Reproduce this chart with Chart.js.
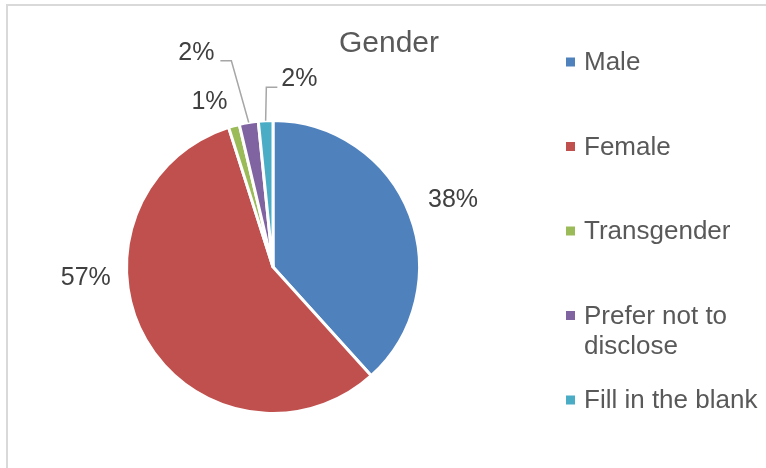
<!DOCTYPE html>
<html>
<head>
<meta charset="utf-8">
<script src="https://cdn.jsdelivr.net/npm/chart.js@4.4.1/dist/chart.umd.min.js"></script>
<style>
  html, body { margin: 0; padding: 0; background: #fff; }
  canvas { display: block; }
</style>
</head>
<body>
<canvas id="genderChart" width="766" height="468"></canvas>
<script>
const chartTitle = 'Gender';
const categories = ['Male', 'Female', 'Transgender', 'Prefer not to disclose', 'Fill in the blank'];
const legendLines = [['Male'], ['Female'], ['Transgender'], ['Prefer not to', 'disclose'], ['Fill in the blank']];
const shares = [38.3, 56.8, 1.2, 2.1, 1.6];
const sliceColors = ['#4F81BD', '#C0504D', '#9BBB59', '#8064A2', '#4BACC6'];

// where each percent label sits: degrees clockwise from 12 o'clock, distance in pie radii
const labelSpots = [
    { angle: 69.7, dist: 1.31 },
    { angle: 266.6, dist: 1.28 },
    { angle: 338.9, dist: 1.205 },
    { angle: 340.3, dist: 1.553, leader: 'right' },
    { angle: 8.0, dist: 1.295, leader: 'left' }
];

const FONT = '"Liberation Sans", Arial, sans-serif';

const excelLook = {
    id: 'excelLook',
    beforeDraw(chart) {
        const ctx = chart.ctx;
        ctx.save();
        ctx.strokeStyle = '#D9D9D9';
        ctx.lineWidth = 2;
        ctx.strokeRect(7, 5, 800, 500);
        ctx.restore();
    },
    afterDatasetsDraw(chart) {
        const ctx = chart.ctx;
        const arcs = chart.getDatasetMeta(0).data;
        const values = chart.data.datasets[0].data;
        const total = values.reduce((a, b) => a + b, 0);

        ctx.save();
        // title
        ctx.fillStyle = '#595959';
        ctx.font = '30px ' + FONT;
        ctx.textAlign = 'center';
        ctx.textBaseline = 'middle';
        ctx.fillText(chartTitle, 389, 44);

        // percent labels
        ctx.font = '25px ' + FONT;
        arcs.forEach((arc, i) => {
            const spot = labelSpots[i];
            const cx = arc.x, cy = arc.y, r = arc.outerRadius;
            const a = (spot.angle - 90) * Math.PI / 180;
            const lx = cx + Math.cos(a) * spot.dist * r;
            const ly = cy + Math.sin(a) * spot.dist * r;
            const text = Math.round(values[i] / total * 100) + '%';
            const w = ctx.measureText(text).width;

            if (spot.leader) {
                const mid = (arc.startAngle + arc.endAngle) / 2;
                const px = cx + Math.cos(mid) * r;
                const py = cy + Math.sin(mid) * r;
                const endX = spot.leader === 'right' ? lx + w / 2 + 6 : lx - w / 2 - 4;
                const elbowX = spot.leader === 'right' ? endX + 11 : endX - 11;
                const lineY = ly + 8;
                ctx.strokeStyle = '#A6A6A6';
                ctx.lineWidth = 1.5;
                ctx.beginPath();
                ctx.moveTo(px, py);
                ctx.lineTo(elbowX, lineY);
                ctx.lineTo(endX, lineY);
                ctx.stroke();
            }
            ctx.fillStyle = '#404040';
            ctx.textAlign = 'center';
            ctx.textBaseline = 'middle';
            ctx.fillText(text, lx, ly);
        });

        // legend
        ctx.font = '26px ' + FONT;
        ctx.textAlign = 'left';
        ctx.textBaseline = 'middle';
        legendLines.forEach((lines, i) => {
            const y = 62 + i * 84.5;
            ctx.fillStyle = sliceColors[i];
            ctx.fillRect(566, y - 4.5, 9, 9);
            ctx.fillStyle = '#595959';
            lines.forEach((line, j) => ctx.fillText(line, 584, y + 1 + j * 30));
        });
        ctx.restore();
    }
};

new Chart(document.getElementById('genderChart'), {
    type: 'pie',
    data: {
        labels: categories,
        datasets: [{
            data: shares,
            backgroundColor: sliceColors,
            borderColor: '#FFFFFF',
            borderWidth: 3
        }]
    },
    options: {
        responsive: false,
        animation: false,
        layout: { padding: { left: 125, right: 345, top: 119, bottom: 53 } },
        plugins: {
            legend: { display: false },
            title: { display: false },
            tooltip: { enabled: false }
        }
    },
    plugins: [excelLook]
});
</script>
</body>
</html>
